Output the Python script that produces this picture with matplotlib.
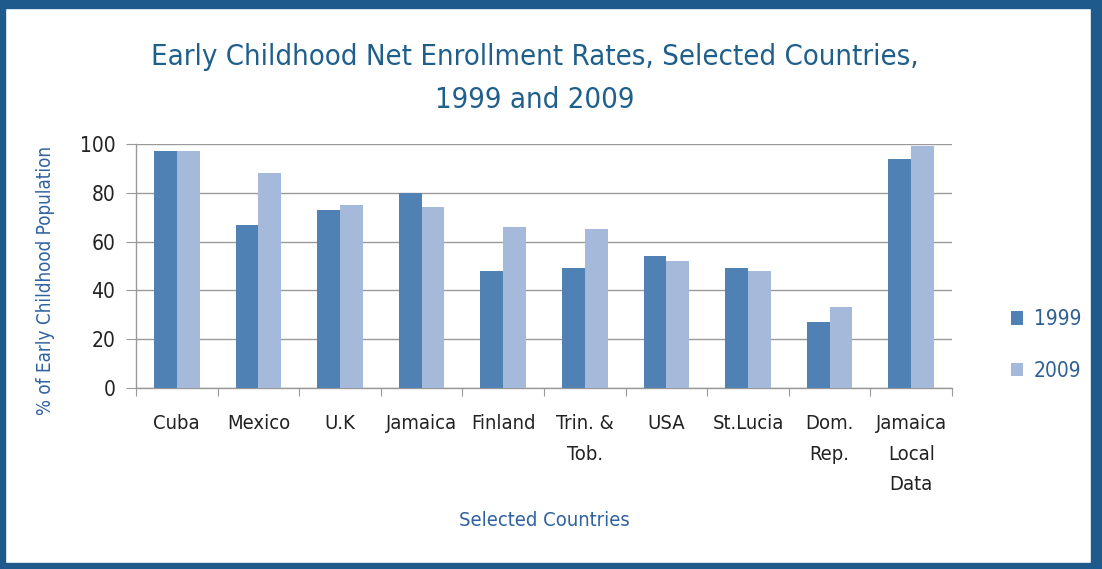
import matplotlib
matplotlib.use("Agg")
import matplotlib.pyplot as plt
from matplotlib.patches import Rectangle
import numpy as np

categories = ["Cuba", "Mexico", "U.K", "Jamaica", "Finland", "Trin. &\nTob.",
              "USA", "St.Lucia", "Dom.\nRep.", "Jamaica\nLocal\nData"]
v1999 = [97, 67, 73, 80, 48, 49, 54, 49, 27, 94]
v2009 = [97, 88, 75, 74, 66, 65, 52, 48, 33, 99]
series_names = ["1999", "2009"]
yticks = [0, 20, 40, 60, 80, 100]

c1999 = "#4f81b5"
c2009 = "#a5b9da"
frame = "#1f5a8c"
title_c = "#1f5f8b"
cond = dict(family="DejaVu Sans", stretch="condensed")

W, H = 1102, 569
fig = plt.figure(figsize=(W/100, H/100), dpi=100)
fig.patch.set_facecolor("white")

fig.patches.append(Rectangle((0, 1-8/H), 1, 8/H, transform=fig.transFigure, color=frame, zorder=0))
fig.patches.append(Rectangle((0, 0), 5/W, 1, transform=fig.transFigure, color=frame, zorder=0))
fig.patches.append(Rectangle((1-11/W, 0), 11/W, 1, transform=fig.transFigure, color=frame, zorder=0))
fig.patches.append(Rectangle((0, 0), 1, 6/H, transform=fig.transFigure, color=frame, zorder=0))

ax = fig.add_axes([136/W, 1-388/H, (952-136)/W, (388-144)/H])
x = np.arange(len(categories))
bw = 0.28
ax.bar(x - bw/2, v1999, bw, color=c1999, label=series_names[0], zorder=3)
ax.bar(x + bw/2, v2009, bw, color=c2009, label=series_names[1], zorder=3)

ax.set_xlim(-0.5, len(categories) - 0.5)
ax.set_ylim(0, 100)
ax.set_yticks(yticks)
ax.set_yticklabels([str(t) for t in yticks], fontsize=15, color="#222222", **cond)
ax.set_xticks(np.arange(len(categories) + 1) - 0.5, minor=False)
ax.set_xticklabels([])
ax.set_xticks(x, minor=True)
ax.set_xticklabels(categories, minor=True, fontsize=14.5, color="#222222",
                   linespacing=1.75, va="top", **cond)
ax.tick_params(axis="x", which="minor", length=0, pad=19)
ax.tick_params(axis="x", which="major", length=6, color="#999999", direction="out")
ax.tick_params(axis="y", length=7, color="#999999", pad=8)
ax.yaxis.grid(True, color="#9a9a9a", linewidth=1, zorder=0)
for s in ["top", "right"]:
    ax.spines[s].set_visible(False)
for s in ["left", "bottom"]:
    ax.spines[s].set_color("#999999")
    ax.spines[s].set_linewidth(1)

ax.set_ylabel("% of Early Childhood Population", fontsize=13.5, color="#2f62a0", **cond)
ax.yaxis.set_label_coords(-0.099, 0.44)
fig.text((136+952)/2/W, 1-520/H, "Selected Countries", ha="center", va="center",
         fontsize=14.5, color="#2f62a0", **cond)

fig.text(535/W, 1-57/H, "Early Childhood Net Enrollment Rates, Selected Countries,",
         ha="center", va="center", fontsize=21, color=title_c, weight="light", **cond)
fig.text(535/W, 1-100/H, "1999 and 2009",
         ha="center", va="center", fontsize=21, color=title_c, weight="light", **cond)

leg = fig.legend(loc="center left", bbox_to_anchor=(992/W, 1-345/H), frameon=False,
                 handlelength=0.6, handleheight=0.6, labelspacing=1.5,
                 handletextpad=0.5, prop={"family": "DejaVu Sans", "stretch": "condensed", "size": 15})
for t in leg.get_texts():
    t.set_color("#2f5f93")

fig.savefig("out.png", dpi=100)
